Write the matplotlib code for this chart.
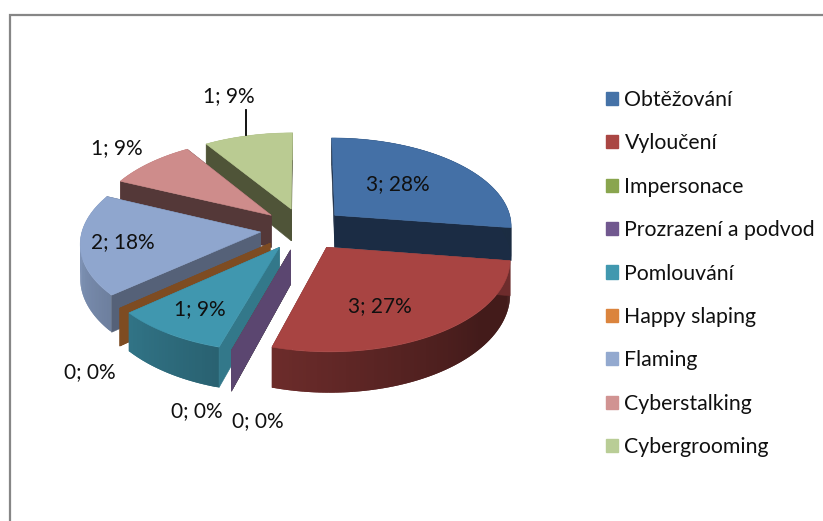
"""Exploded 3D-look pie chart, drawn as projected polygons on a pixel-sized axes."""

import numpy as np
import matplotlib

matplotlib.use('Agg')
import matplotlib.pyplot as plt
from matplotlib.patches import Patch, Polygon

CATEGORIES = ['Obtěžování', 'Vyloučení', 'Impersonace', 'Prozrazení a podvod', 'Pomlouvání',
              'Happy slaping', 'Flaming', 'Cyberstalking', 'Cybergrooming']
VALUES = [3, 3, 0, 0, 1, 0, 2, 1, 1]
LABELS = ['3; 28%', '3; 27%', '0; 0%', '0; 0%', '1; 9%', '0; 0%', '2; 18%', '1; 9%', '1; 9%']

TOP_COLORS = ['#4470a6', '#a84442', '#8aa64f', '#7c5fa0', '#4097af', '#e0883a', '#8fa6ce', '#ce8c8b', '#bacb92']
WALL_COLORS = ['#1b2c44', '#6e2c2c', '#4f5a30', '#5b4670', '#33788a', '#7e4c22', '#556178', '#543838', '#4f5438']
LEGEND_COLORS = ['#4572a7', '#aa4643', '#89a54e', '#71588f', '#4198af', '#db843d', '#93a9cf', '#d19392', '#b9cd96']

LABEL_POS = [(398, 184), (380, 306), (197, 411), (258, 421), (200, 309), (90, 372), (123, 242), (117, 148), (229, 96)]
DRAW_ORDER = [8, 7, 6, 5, 4, 2, 3, 0, 1]

CX, CY = 303, 229
RX, RY = 178, 88.7
PERSPECTIVE = 0.11
EXPLODE = 0.24
DEPTH = 33
FONT = 'Lato'


def project(px, py, down=False):
    scale = 1 / (1 - PERSPECTIVE * py)
    x = CX + RX * px * scale
    y = CY + RY * py * scale
    if down:
        y += DEPTH * scale ** 1.5
    return x, y


def disc(theta):
    rad = np.radians(theta)
    return np.sin(rad), -np.cos(rad)


def wall_shade(theta):
    return np.clip(0.40 + (theta - 130) * 0.0037, 0.40, 0.88)


def add_poly(ax, points, color, edge=0.4):
    ax.add_patch(Polygon(points, closed=True, facecolor=color, edgecolor=color if edge else 'none', linewidth=edge))


def cut_face(ax, apex, theta, color):
    u, v = disc(theta)
    outer = (apex[0] + u, apex[1] + v)
    add_poly(ax, [project(*apex), project(*outer), project(*outer, down=True), project(*apex, down=True)], color)


def draw_slice(ax, start, end, top_color, wall_color):
    mid_u, mid_v = disc((start + end) / 2)
    apex = (EXPLODE * mid_u, EXPLODE * mid_v)

    cut_face(ax, apex, end, wall_color)
    if end > start:
        # rim in overlapping strips, no seams between them
        thetas = np.linspace(start, end, max(int(end - start), 2) + 1)
        rgb = np.array(matplotlib.colors.to_rgb(top_color))
        for k in range(len(thetas) - 1):
            t0, t1 = thetas[k], thetas[min(k + 2, len(thetas) - 1)]
            u0, v0 = disc(t0)
            u1, v1 = disc(t1)
            p0, p1 = (apex[0] + u0, apex[1] + v0), (apex[0] + u1, apex[1] + v1)
            add_poly(ax, [project(*p0), project(*p1), project(*p1, down=True), project(*p0, down=True)],
                     rgb * wall_shade(thetas[k] + 0.5), edge=0)
    cut_face(ax, apex, start, wall_color)
    if end <= start:
        return

    top = [project(*apex)]
    for theta in thetas:
        u, v = disc(theta)
        top.append(project(apex[0] + u, apex[1] + v))
    add_poly(ax, top, top_color)


def main():
    fig = plt.figure(figsize=(8.23, 5.21), dpi=100)
    ax = fig.add_axes([0, 0, 1, 1])
    ax.set_xlim(0, 823)
    ax.set_ylim(521, 0)
    ax.axis('off')

    ax.plot([10, 10, 823], [521, 15, 15], color='#868686', linewidth=1.6, solid_joinstyle='miter')

    edges = np.cumsum([0] + VALUES) / sum(VALUES) * 360
    for i in DRAW_ORDER:
        draw_slice(ax, edges[i], edges[i + 1], TOP_COLORS[i], WALL_COLORS[i])

    ax.plot([246, 246], [110, 135], color='black', linewidth=1.3)
    for label, (x, y) in zip(LABELS, LABEL_POS):
        ax.text(x, y, label, ha='center', va='center', fontsize=15, family=FONT, color='#101010')

    handles = [Patch(facecolor=c, edgecolor=c) for c in LEGEND_COLORS]
    ax.legend(handles, CATEGORIES, loc='upper left', bbox_to_anchor=(606, 521 - 90),
              bbox_transform=matplotlib.transforms.IdentityTransform(), frameon=False,
              prop={'family': FONT, 'size': 15.3}, handlelength=0.57, handleheight=0.57, handletextpad=0.3,
              labelspacing=1.1, borderpad=0, borderaxespad=0, labelcolor='#101010')

    fig.savefig('out.png', dpi=100)


if __name__ == '__main__':
    main()
